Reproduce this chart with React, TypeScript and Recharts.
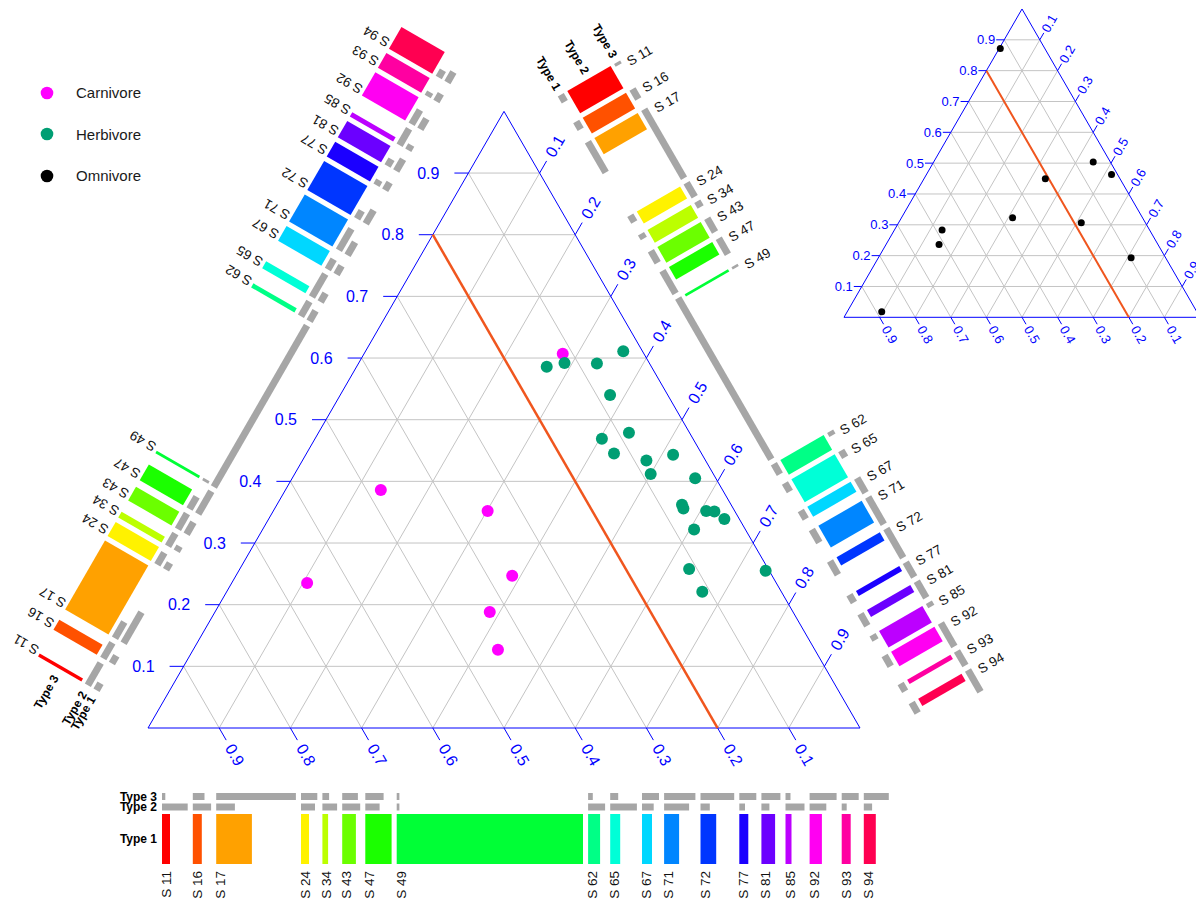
import React from "react";
import { ScatterChart, Scatter, XAxis, YAxis, Legend } from "recharts";

// ---- values ----
const species = ["S 11", "S 16", "S 17", "S 24", "S 34", "S 43", "S 47", "S 49", "S 62", "S 65", "S 67", "S 71", "S 72", "S 77", "S 81", "S 85", "S 92", "S 93", "S 94"];
const speciesColors = ["#FF0000", "#FF5100", "#FFA100", "#FFF200", "#BCFF00", "#6BFF00", "#1BFF00", "#00FF36", "#00FF86", "#00FFD7", "#00D7FF", "#0086FF", "#0036FF", "#1B00FF", "#6B00FF", "#BC00FF", "#FF00F2", "#FF00A1", "#FF0051"];
const type1 = [8, 9, 35.7, 8, 5.7, 13.7, 26.3, 186.3, 12, 10, 10, 15, 15.7, 9, 13.7, 6, 12.3, 9, 12];
const type2 = [25.7, 18.3, 18.7, 14, 14.7, 18, 14.3, 2.7, 17, 26.7, 11.7, 25, 9.3, 5.7, 8, 19, 16.7, 5, 8.3];
const type3 = [3.3, 11.7, 79.7, 16.3, 6.7, 15.7, 18.3, 2.7, 4.7, 8, 17, 31.3, 33.7, 17, 19, 5, 27, 17, 25];
const typeNames = ["Type 1", "Type 2", "Type 3"];
const axisTicks = [0.1, 0.2, 0.3, 0.4, 0.5, 0.6, 0.7, 0.8, 0.9];
const cutoff = 0.2; // left component of the orange line

// compositions [left, top, right]
const carnivore = [
  [0.114, 0.607, 0.279],
  [0.48, 0.386, 0.134],
  [0.347, 0.352, 0.301],
  [0.659, 0.235, 0.106],
  [0.365, 0.247, 0.388],
  [0.426, 0.188, 0.386],
  [0.445, 0.127, 0.428],
];
const herbivore = [
  [0.147, 0.586, 0.267],
  [0.119, 0.592, 0.289],
  [0.074, 0.591, 0.335],
  [0.027, 0.611, 0.362],
  [0.081, 0.54, 0.379],
  [0.085, 0.479, 0.436],
  [0.128, 0.469, 0.403],
  [0.123, 0.445, 0.432],
  [0.083, 0.434, 0.483],
  [0.088, 0.412, 0.5],
  [0.041, 0.443, 0.516],
  [0.029, 0.405, 0.566],
  [0.07, 0.356, 0.574],
  [0.069, 0.362, 0.569],
  [0.04, 0.352, 0.608],
  [0.029, 0.351, 0.62],
  [0.021, 0.339, 0.64],
  [0.072, 0.322, 0.606],
  [0.111, 0.258, 0.631],
  [0.111, 0.221, 0.668],
  [0.005, 0.255, 0.74],
];
const omnivore = [
  [0.125, 0.872, 0.003],
  [0.048, 0.504, 0.448],
  [0.017, 0.463, 0.52],
  [0.21, 0.449, 0.341],
  [0.365, 0.323, 0.312],
  [0.18, 0.307, 0.513],
  [0.583, 0.283, 0.134],
  [0.615, 0.236, 0.149],
  [0.097, 0.193, 0.71],
  [0.885, 0.018, 0.097],
];
const groups = [
  { name: "Carnivore", color: "#FF00FF" },
  { name: "Herbivore", color: "#009E73" },
  { name: "Omnivore", color: "#000000" },
];

// ---- layout ----
const W = 1196;
const H = 902;
const SIDE = 712; // px of one triangle side
const PX = 1 / SIDE;
const XMIN = -148 * PX;
const XMAX = (W - 148) * PX;
const YMIN = (728 - H) * PX;
const YMAX = 728 * PX;
const R3 = Math.sqrt(3) / 2;
const FONT = '"Liberation Sans", Arial, Helvetica, sans-serif';
const BLUE = "#0000FF";
const GRID = "#C4C4C4";
const GREY_BAR = "#A6A6A6";
const CUT_COLOR = "#F0561E";

type Pt = { x: number; y: number };
type Seg = [Pt, Pt];
type Label = Pt & { text: string; angle: number; anchor: string };

const add = (a: Pt, b: Pt, k = 1): Pt => ({ x: a.x + b.x * k, y: a.y + b.y * k });
const tern = (c: number[], o: Pt, s: number): Pt => ({ x: o.x + s * (c[2] + c[1] / 2), y: o.y + s * c[1] * R3 });

const DIR_L = { x: -1, y: 0 };
const DIR_R = { x: 0.5, y: R3 };
const DIR_B = { x: 0.5, y: -R3 };

function buildTriangle(o: Pt, s: number, tickLen: number, gaps: number[]) {
  const grid: Seg[] = [];
  const tickSegs: Seg[] = [];
  const labels: Label[] = [];
  axisTicks.forEach((k) => {
    const pl = tern([1 - k, k, 0], o, s);
    const pr = tern([0, 1 - k, k], o, s);
    const pb = tern([k, 0, 1 - k], o, s);
    grid.push([pl, tern([0, k, 1 - k], o, s)]);
    grid.push([pb, tern([k, 1 - k, 0], o, s)]);
    grid.push([tern([1 - k, 0, k], o, s), pr]);
    tickSegs.push([pl, add(pl, DIR_L, tickLen)]);
    tickSegs.push([pr, add(pr, DIR_R, tickLen)]);
    tickSegs.push([pb, add(pb, DIR_B, tickLen)]);
    const t = k.toFixed(1);
    labels.push({ ...add(pl, DIR_L, gaps[0]), text: t, angle: 0, anchor: "end" });
    labels.push({ ...add(pr, DIR_R, gaps[1]), text: t, angle: -60, anchor: "start" });
    labels.push({ ...add(pb, DIR_B, gaps[2]), text: t, angle: 60, anchor: "start" });
  });
  const A = tern([1, 0, 0], o, s);
  const B = tern([0, 1, 0], o, s);
  const C = tern([0, 0, 1], o, s);
  const edges: Seg[] = [[A, C], [C, B], [B, A]];
  const cut: Seg[] = [[tern([cutoff, 1 - cutoff, 0], o, s), tern([cutoff, 0, 1 - cutoff], o, s)]];
  return { grid, tickSegs: [...edges, ...tickSegs], labels, cut };
}

const mainO = { x: 0, y: 0 };
const insetO = { x: (844 - 148) * PX, y: (728 - 317.3) * PX };
const main = buildTriangle(mainO, 1, 14 * PX, [29 * PX, 20 * PX, 20 * PX]);
const inset = buildTriangle(insetO, 0.5, 8 * PX, [9 * PX, 10 * PX, 11 * PX]);

// ---- strips along the three sides ----
const values = [type1, type2, type3];
const GAP = 5.1;
const slotStart: number[] = [];
species.reduce((acc, _, i) => {
  slotStart.push(acc);
  return acc + Math.max(type1[i], type2[i], type3[i]) + GAP;
}, 0);

const sides = [
  { start: { x: 14 * PX, y: 0 }, d: { x: 1, y: 0 }, n: { x: 0, y: -1 }, rows: [[86, 136], [75.5, 82.5], [65, 72]], colored: 0, typeAlong: -5, typeAngle: 0, spAlong: 4.5, spOff: 143, spAngle: -90, spAnchor: "end" },
  { start: add({ x: 0.5, y: R3 }, { x: 0.5, y: -R3 }, 14 * PX), d: { x: 0.5, y: -R3 }, n: { x: R3, y: 0.5 }, rows: [[54, 61], [65, 115], [119, 126]], colored: 1, typeAlong: -6, typeAngle: 60, spAlong: 5.5, spOff: 132, spAngle: -30, spAnchor: "start" },
  { start: { x: 0.5 * 7 * PX, y: R3 * 7 * PX }, d: { x: 0.5, y: R3 }, n: { x: -R3, y: 0.5 }, rows: [[60, 67], [70, 77], [81, 131]], colored: 2, typeAlong: -8, typeAngle: -60, spAlong: 4.5, spOff: 134, spAngle: -150, spAnchor: "start" },
];

const polys: { pts: Pt[]; fill: string }[] = [];
const typeLabels: Label[] = [];
const speciesLabels: Label[] = [];
sides.forEach((sd) => {
  const at = (along: number, off: number) => add(add(sd.start, sd.d, along * PX), sd.n, off * PX);
  species.forEach((name, i) => {
    const s0 = slotStart[i];
    values.forEach((vals, t) => {
      const [o1, o2] = sd.rows[t];
      const L = vals[i];
      polys.push({
        pts: [at(s0, o1), at(s0 + L, o1), at(s0 + L, o2), at(s0, o2)],
        fill: t === sd.colored ? speciesColors[i] : GREY_BAR,
      });
    });
    speciesLabels.push({ ...at(s0 + sd.spAlong, sd.spOff), text: name, angle: sd.spAngle, anchor: sd.spAnchor });
  });
  typeNames.forEach((tn, t) => {
    const mid = (sd.rows[t][0] + sd.rows[t][1]) / 2;
    typeLabels.push({ ...at(sd.typeAlong, mid), text: tn, angle: sd.typeAngle, anchor: "end" });
  });
});

// ---- renderers ----
const noShape = () => <g />;

const segmentLayer = (key: string, segs: Seg[], stroke: string, width: number) => (
  <Scatter
    key={key}
    data={segs.flat()}
    isAnimationActive={false}
    legendType="none"
    shape={noShape}
    line={(p: any) => (
      <g>
        {segs.map((_, i) => {
          const a = p.points[2 * i];
          const b = p.points[2 * i + 1];
          return <line key={i} x1={a.x} y1={a.y} x2={b.x} y2={b.y} stroke={stroke} strokeWidth={width} />;
        })}
      </g>
    )}
  />
);

const polygonLayer = (key: string) => (
  <Scatter
    key={key}
    data={polys.flatMap((p) => p.pts)}
    isAnimationActive={false}
    legendType="none"
    shape={noShape}
    line={(p: any) => (
      <g>
        {polys.map((poly, i) => (
          <polygon
            key={i}
            points={p.points.slice(4 * i, 4 * i + 4).map((q: Pt) => `${q.x},${q.y}`).join(" ")}
            fill={poly.fill}
          />
        ))}
      </g>
    )}
  />
);

const textShape = (size: number, color: string, weight: string | number = "normal") => (p: any) => {
  const d = p.payload;
  return (
    <text
      x={p.cx}
      y={p.cy}
      transform={`rotate(${d.angle} ${p.cx} ${p.cy})`}
      textAnchor={d.anchor}
      dominantBaseline="central"
      fontSize={size}
      fontWeight={weight}
      fill={color}
      fontFamily={FONT}
    >
      {d.text}
    </text>
  );
};

const labelLayer = (key: string, labels: Label[], size: number, color: string, weight: string | number = "normal") => (
  <Scatter key={key} data={labels} isAnimationActive={false} legendType="none" shape={textShape(size, color, weight)} />
);

const dot = (r: number, color: string) => (p: any) => <circle cx={p.cx} cy={p.cy} r={r} fill={color} />;

const renderLegend = () => (
  <div style={{ fontFamily: FONT }}>
    {groups.map((g) => (
      <div key={g.name} style={{ display: "flex", alignItems: "center", height: 41.5 }}>
        <svg width={14} height={14} style={{ display: "block" }}>
          <circle cx={7} cy={7} r={6.3} fill={g.color} />
        </svg>
        <span style={{ marginLeft: 22, fontSize: 15, color: "#1a1a1a" }}>{g.name}</span>
      </div>
    ))}
  </div>
);

export default function App() {
  return (
    <div style={{ position: "absolute", left: 0, top: 0, width: W, height: H, background: "#fff", fontFamily: FONT }}>
      <ScatterChart width={W} height={H} margin={{ top: 0, right: 0, bottom: 0, left: 0 }}>
        <XAxis type="number" dataKey="x" domain={[XMIN, XMAX]} allowDataOverflow hide />
        <YAxis type="number" dataKey="y" domain={[YMIN, YMAX]} allowDataOverflow hide />
        <Legend
          layout="vertical"
          align="center"
          verticalAlign="middle"
          wrapperStyle={{ left: 40, top: 72, width: 160, height: 130 }}
          content={renderLegend}
        />
        {segmentLayer("main-grid", main.grid, GRID, 1)}
        {segmentLayer("inset-grid", inset.grid, GRID, 1)}
        {polygonLayer("strips")}
        {segmentLayer("main-axes", main.tickSegs, BLUE, 1)}
        {segmentLayer("inset-axes", inset.tickSegs, BLUE, 1)}
        {segmentLayer("main-cut", main.cut, CUT_COLOR, 2.5)}
        {segmentLayer("inset-cut", inset.cut, CUT_COLOR, 2)}
        {labelLayer("main-ticks", main.labels, 16, BLUE)}
        {labelLayer("inset-ticks", inset.labels, 13, BLUE)}
        {labelLayer("type-labels", typeLabels, 12, "#000", "bold")}
        {labelLayer("species-labels", speciesLabels, 13.5, "#111")}
        <Scatter name="Carnivore" data={carnivore.map((c) => tern(c, mainO, 1))} shape={dot(6, groups[0].color)} fill={groups[0].color} isAnimationActive={false} />
        <Scatter name="Herbivore" data={herbivore.map((c) => tern(c, mainO, 1))} shape={dot(6, groups[1].color)} fill={groups[1].color} isAnimationActive={false} />
        <Scatter name="Omnivore" data={omnivore.map((c) => tern(c, insetO, 0.5))} shape={dot(3.5, groups[2].color)} fill={groups[2].color} isAnimationActive={false} />
      </ScatterChart>
    </div>
  );
}
